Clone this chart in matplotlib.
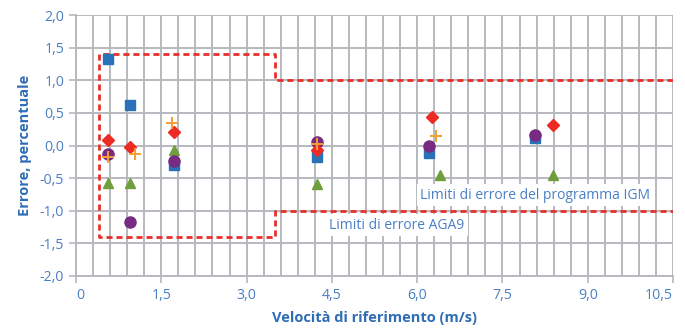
import numpy as np
import matplotlib
matplotlib.use("Agg")
import matplotlib.pyplot as plt
from matplotlib.ticker import MultipleLocator, FuncFormatter

# velocita di riferimento (m/s) e errore (%) per ciascuna serie
blue_x = [0.57, 0.95, 1.73, 4.24, 6.2, 8.08]
blue_y = [1.32, 0.62, -0.30, -0.17, -0.12, 0.11]

red_x = [0.57, 0.95, 1.73, 4.24, 6.26, 8.39]
red_y = [0.09, -0.03, 0.21, -0.07, 0.44, 0.32]

orange_x = [0.57, 1.03, 1.69, 4.24, 6.33]
orange_y = [-0.17, -0.135, 0.35, 0.03, 0.15]

green_x = [0.57, 0.95, 1.73, 4.24, 6.41, 8.39]
green_y = [-0.58, -0.58, -0.07, -0.59, -0.45, -0.45]

purple_x = [0.57, 0.95, 1.73, 4.24, 6.21, 8.08]
purple_y = [-0.13, -1.18, -0.23, 0.06, 0.0, 0.16]

# limiti di errore (linea tratteggiata)
limit_x = [10.5, 3.5, 3.5, 0.4, 0.4, 3.5, 3.5, 10.5]
limit_y = [1.0, 1.0, 1.4, 1.4, -1.4, -1.4, -1.0, -1.0]

x_ticks = [0, 1.5, 3.0, 4.5, 6.0, 7.5, 9.0, 10.5]
y_ticks = [-2.0, -1.5, -1.0, -0.5, 0.0, 0.5, 1.0, 1.5, 2.0]

txt_blue = "#4a7fc4"
lab_blue = "#2f6db5"
grid_col = "#b5b9bd"

plt.rcParams['font.family'] = ['Open Sans', 'DejaVu Sans']

fig = plt.figure(figsize=(6.85, 3.34), dpi=100)
ax = fig.add_axes([0.111, 0.1737, 0.8715, 0.7813])

ax.set_xlim(0, 10.5)
ax.set_ylim(-2.0, 2.0)

# griglia
ax.xaxis.set_major_locator(plt.FixedLocator(x_ticks))
ax.xaxis.set_minor_locator(MultipleLocator(0.3))
ax.yaxis.set_major_locator(plt.FixedLocator(y_ticks))
ax.grid(True, which='both', axis='x', color=grid_col, lw=1.4)
ax.grid(True, which='major', axis='y', color=grid_col, lw=1.4)
ax.set_axisbelow(True)

for s in ['top', 'right']:
    ax.spines[s].set_visible(False)
for s in ['left', 'bottom']:
    ax.spines[s].set_color(grid_col)
    ax.spines[s].set_linewidth(1.4)

def fmt_x(v, pos):
    if v == 0:
        return "0"
    return ("%.1f" % v).replace(".", ",")

def fmt_y(v, pos):
    return ("%.1f" % v).replace(".", ",").replace("-0,0", "0,0")

ax.xaxis.set_major_formatter(FuncFormatter(fmt_x))
ax.yaxis.set_major_formatter(FuncFormatter(fmt_y))
ax.tick_params(which='major', colors=grid_col, labelcolor=txt_blue, labelsize=10.2,
               length=5, width=1.2)
ax.tick_params(which='minor', length=0)

# l'ultima etichetta resta dentro il bordo
fig.canvas.draw()
xl = ax.get_xticklabels()
xl[-1].set_horizontalalignment('right')
xl[0].set_horizontalalignment('left')

ax.plot(limit_x, limit_y, color="#e8302a", lw=2.0, dashes=(2.2, 1.4), zorder=2)

ax.plot(blue_x, blue_y, 's', color="#2a72b8", ms=6.8, ls='none', zorder=3)
ax.plot(green_x, green_y, '^', color="#6f9e3c", ms=7.5, ls='none', zorder=3)
ax.plot(purple_x, purple_y, 'o', color="#782b82", ms=8, ls='none', zorder=4)
ax.plot(red_x, red_y, 'D', color="#ee2a24", ms=6.2, ls='none', zorder=5)
ax.plot(orange_x, orange_y, '+', color="#f5a030", ms=8, mew=1.4, ls='none', zorder=6)

ax.text(6.05, -0.76, "Limiti di errore del programma IGM", color=txt_blue, fontsize=10,
        va='center', ha='left', zorder=7,
        bbox=dict(facecolor='white', edgecolor='none', pad=2.5))
ax.text(4.45, -1.22, "Limiti di errore AGA9", color=txt_blue, fontsize=10,
        va='center', ha='left', zorder=7,
        bbox=dict(facecolor='white', edgecolor='none', pad=2.5))

ax.set_xlabel("Velocità di riferimento (m/s)", color=lab_blue, fontsize=10.5,
              fontweight='bold', labelpad=6)
ax.set_ylabel("Errore, percentuale", color=lab_blue, fontsize=10.5,
              fontweight='bold', labelpad=6)

fig.savefig("out.png", dpi=100)
